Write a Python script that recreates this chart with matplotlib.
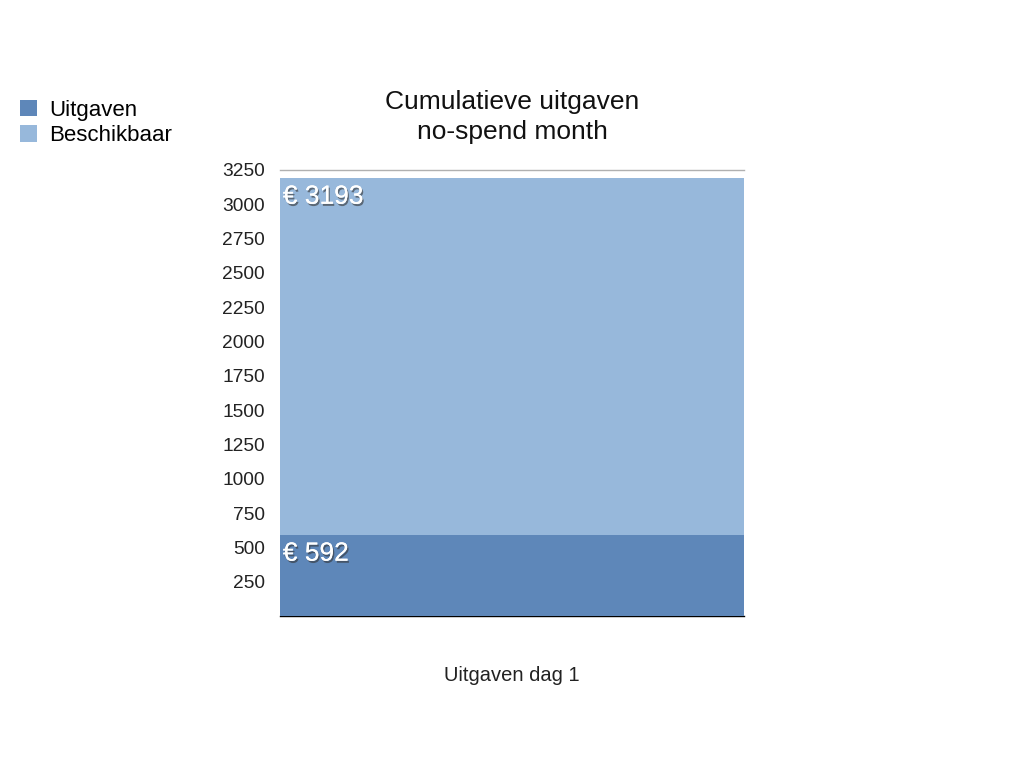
import matplotlib.pyplot as plt
import matplotlib.patheffects as pe

plt.rcParams['font.family'] = ['Liberation Sans', 'DejaVu Sans']

# data
categories = ['Uitgaven dag 1']
beschikbaar = [3193]
uitgaven = [592]
y_ticks = [250, 500, 750, 1000, 1250, 1500, 1750, 2000, 2250, 2500, 2750, 3000, 3250]
title_text = 'Cumulatieve uitgaven\nno-spend month'

dark_blue = '#5e87b9'
light_blue = '#97b8db'

fig = plt.figure(figsize=(10.24, 7.68), dpi=100)
ax = fig.add_axes([280 / 1024, 1 - 616 / 768, 464 / 1024, 446 / 768])

x = range(len(categories))
# bars overlap: available amount behind, spent amount in front
b1 = ax.bar(x, beschikbaar, width=1.0, color=light_blue, label='Beschikbaar', zorder=2)
b2 = ax.bar(x, uitgaven, width=1.0, color=dark_blue, label='Uitgaven', zorder=3)

ax.set_xlim(-0.5, len(categories) - 0.5)
ax.set_ylim(0, 3250)
ax.set_yticks(y_ticks)
ax.set_yticklabels([str(v) for v in y_ticks], fontsize=13.8, color='#222222')
ax.tick_params(axis='y', length=0, pad=11)
ax.set_xticks([])

for side in ['left', 'right', 'top']:
    ax.spines[side].set_visible(False)
ax.spines['bottom'].set_color('black')
ax.spines['bottom'].set_linewidth(1.0)
ax.axhline(3250, color='#b0b0b0', linewidth=1.0, zorder=1, clip_on=False)

shadow = [pe.withSimplePatchShadow(offset=(1, -1.5), shadow_rgbFace='#333333', alpha=0.6),
          pe.Normal()]
for bars in (b1, b2):
    for bar in bars:
        h = bar.get_height()
        ax.annotate(f'€ {int(h)}', xy=(bar.get_x(), h), xytext=(2, -5),
                    textcoords='offset points', ha='left', va='top',
                    fontsize=19, color='white', zorder=5, path_effects=shadow)

ax.set_xlabel(categories[0], fontsize=14.5, color='#222222', labelpad=36)
fig.text(512 / 1024, 1 - 117 / 768, title_text, ha='center', va='center',
         fontsize=19, color='#111111', linespacing=1.35)

# legend top-left
handles = [b2, b1]
leg = fig.legend(handles, ['Uitgaven', 'Beschikbaar'], loc='upper left',
                 bbox_to_anchor=(0.011, 1 - 91 / 768), frameon=False,
                 fontsize=16, handlelength=0.75, handleheight=0.75,
                 handletextpad=0.55, labelspacing=0.2, borderaxespad=0)

fig.savefig('out.png', dpi=100)
